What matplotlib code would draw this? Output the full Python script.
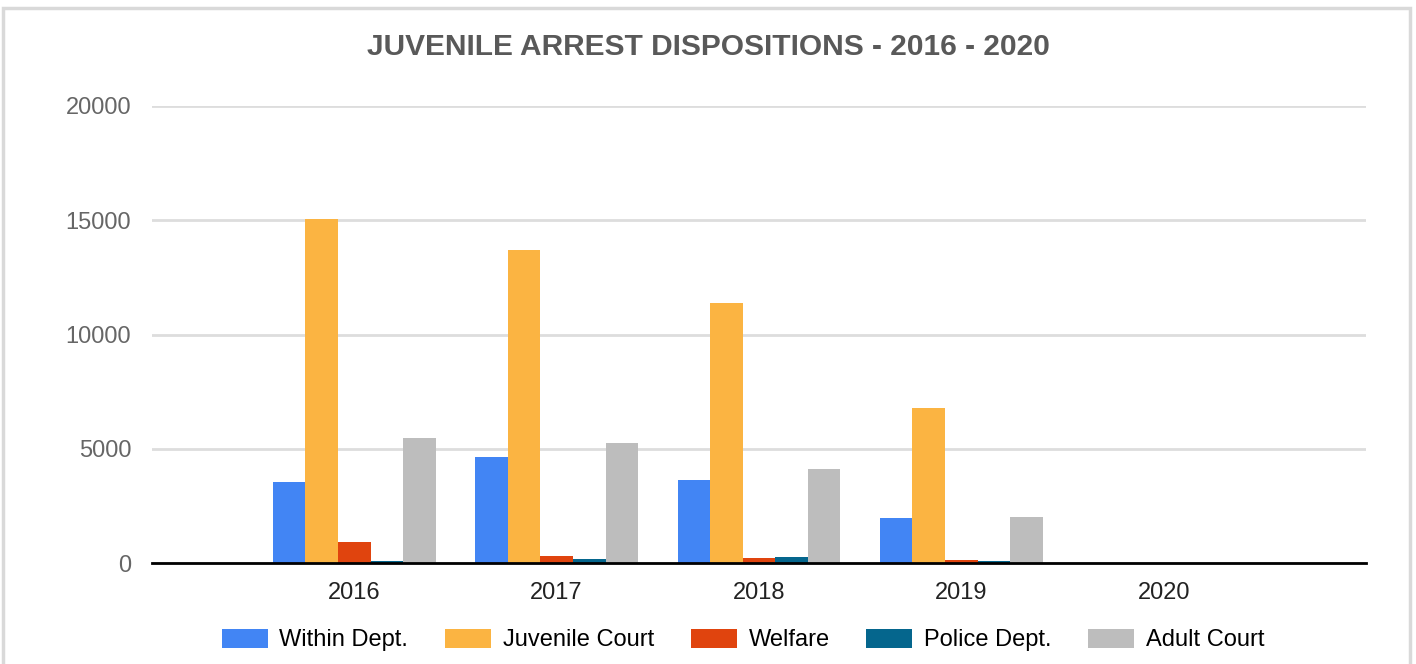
import numpy as np
import matplotlib.pyplot as plt
from matplotlib.patches import Rectangle

plt.rcParams['font.family'] = ['Liberation Sans', 'DejaVu Sans']

# Data
years = ['2016', '2017', '2018', '2019', '2020']
series_names = ['Within Dept.', 'Juvenile Court', 'Welfare', 'Police Dept.', 'Adult Court']
within_dept = [3550, 4630, 3650, 1960, 0]
juvenile_court = [15070, 13700, 11400, 6800, 0]
welfare = [900, 290, 235, 120, 0]
police_dept = [90, 175, 275, 90, 0]
adult_court = [5480, 5230, 4135, 2035, 0]
yticks = [0, 5000, 10000, 15000, 20000]

colors = ['#4285F4', '#FBB442', '#E0440E', '#05668D', '#BDBDBD']
series = [within_dept, juvenile_court, welfare, police_dept, adult_court]

fig = plt.figure(figsize=(14.16, 6.64), dpi=100)
ax = fig.add_axes([152/1416, 1 - 563/664, (1366 - 152)/1416, (563 - 106)/664])

x = np.arange(len(years))
bw = 0.161
for i, (vals, c, name) in enumerate(zip(series, colors, series_names)):
    ax.bar(x + (i - 2) * bw, vals, width=bw, color=c, label=name, zorder=3)

ax.set_xlim(-1, 5)
ax.set_ylim(0, 20000)
ax.set_yticks(yticks)
ax.set_yticklabels([str(v) for v in yticks])
ax.set_xticks(x)
ax.set_xticklabels(years)
ax.tick_params(axis='y', length=0, pad=15, labelsize=17, labelcolor='#666666')
ax.tick_params(axis='x', length=0, pad=13.5, labelsize=17, labelcolor='#222222')
ax.grid(axis='y', color='#DDDDDD', linewidth=2, zorder=0)
for s in ['top', 'left', 'right']:
    ax.spines[s].set_visible(False)
ax.spines['bottom'].set_color('black')
ax.spines['bottom'].set_linewidth(2)
ax.spines['bottom'].set_zorder(4)

fig.text(708/1416, 1 - 47/664, 'JUVENILE ARREST DISPOSITIONS - 2016 - 2020',
         ha='center', va='center', fontsize=21.5, fontweight='bold', color='#595959')

handles, labels = ax.get_legend_handles_labels()
fig.legend(handles, labels, loc='center', bbox_to_anchor=(743/1416, 1 - 640/664),
           ncol=5, frameon=False, fontsize=17, handlelength=1.95, handleheight=0.85,
           handletextpad=0.5, columnspacing=1.55)

# outer border
fig.patches.append(Rectangle((3/1416, -0.05), (1410 - 3)/1416, 1.05 - 8/664,
                             transform=fig.transFigure, fill=False,
                             edgecolor='#D9D9D9', linewidth=2.5))

fig.savefig('out.png', dpi=100)
